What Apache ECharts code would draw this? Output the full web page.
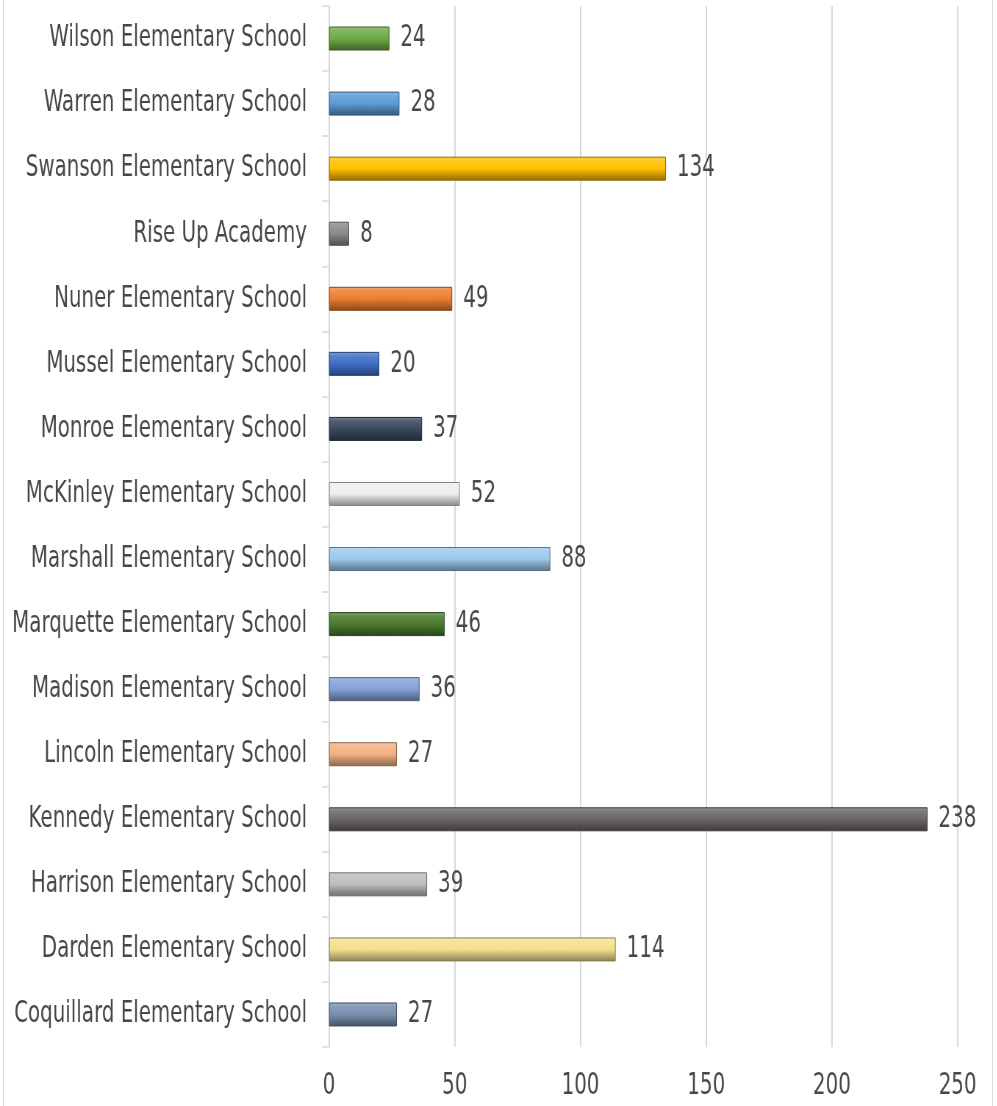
<!DOCTYPE html>
<html>
<head>
<meta charset="utf-8">
<script src="https://cdn.jsdelivr.net/npm/echarts@6/dist/echarts.min.js"></script>
<style>
  html, body { margin: 0; padding: 0; background: #fff; overflow: hidden; }
  #frame { position: absolute; left: 3px; top: 0; width: 988px; height: 1106px;
           border-left: 1px solid #d9d9d9; border-right: 1px solid #d9d9d9; }
  /* the source chart uses a tall, narrow face: draw wide, then squeeze horizontally */
  #chart { position: absolute; left: 0; top: 0; width: 1356px; height: 1106px;
           transform: scaleX(0.735); transform-origin: 0 0; }
</style>
</head>
<body>
<div id="frame"></div>
<div id="chart"></div>
<script>
// bottom to top, as the axis draws them
const schools = [
  'Coquillard Elementary School', 'Darden Elementary School', 'Harrison Elementary School',
  'Kennedy Elementary School', 'Lincoln Elementary School', 'Madison Elementary School',
  'Marquette Elementary School', 'Marshall Elementary School', 'McKinley Elementary School',
  'Monroe Elementary School', 'Mussel Elementary School', 'Nuner Elementary School',
  'Rise Up Academy', 'Swanson Elementary School', 'Warren Elementary School',
  'Wilson Elementary School'
]
const counts = [27, 114, 39, 238, 27, 36, 46, 88, 52, 37, 20, 49, 8, 134, 28, 24]
const barColors = [
  '#7990ad', '#f3e08e', '#bdbdbd', '#6b6767', '#f4b183', '#86a2d8',
  '#4a7a2e', '#9dc8ee', '#eeeeee', '#3a4a60', '#3f6fc6', '#ed7d31',
  '#8a8a8a', '#ffc000', '#5b9bd5', '#6fab46'
]
const xTicks = [0, 50, 100, 150, 200, 250]

const SX = 0.735 // horizontal squeeze applied by css
const FONT = '"DejaVu Sans Condensed", "DejaVu Sans", sans-serif'
const TEXT = '#474747'

function shade(hex, f) {
  let r = parseInt(hex.slice(1, 3), 16), g = parseInt(hex.slice(3, 5), 16), b = parseInt(hex.slice(5, 7), 16)
  const mix = v => f >= 0 ? Math.round(v + (255 - v) * f) : Math.round(v * (1 + f))
  return 'rgb(' + mix(r) + ',' + mix(g) + ',' + mix(b) + ')'
}

function bevel(c) {
  return new echarts.graphic.LinearGradient(0, 0, 0, 1, [
    { offset: 0, color: shade(c, 0.3) },
    { offset: 0.18, color: shade(c, 0.12) },
    { offset: 0.5, color: c },
    { offset: 0.82, color: shade(c, -0.28) },
    { offset: 1, color: shade(c, -0.42) }
  ])
}

const chart = echarts.init(document.getElementById('chart'))
chart.setOption({
  animation: false,
  grid: { left: 329 / SX, right: 39 / SX, top: 6, bottom: 59, outerBoundsMode: 'none', containLabel: false },
  xAxis: {
    type: 'value',
    min: xTicks[0],
    max: xTicks[xTicks.length - 1],
    interval: 50,
    axisLine: { show: false },
    axisTick: { show: false },
    splitLine: { lineStyle: { color: '#d9d9d9', width: 2 } },
    axisLabel: { fontFamily: FONT, fontSize: 30, color: TEXT, margin: 24 }
  },
  yAxis: {
    type: 'category',
    data: schools,
    axisLine: { lineStyle: { color: '#d9d9d9', width: 2 } },
    axisTick: { show: true, length: 7 / SX, lineStyle: { color: '#d9d9d9', width: 1.5 } },
    axisLabel: { fontFamily: FONT, fontSize: 30, color: TEXT, margin: 22 / SX, padding: [6, 0, 0, 0] }
  },
  series: [{
    type: 'bar',
    barWidth: 24,
    data: counts.map((v, i) => ({
      value: v,
      itemStyle: {
        color: bevel(barColors[i]),
        borderColor: shade(barColors[i], -0.45),
        borderWidth: 1
      }
    })),
    label: {
      show: true,
      position: 'right',
      distance: 11 / SX,
      fontFamily: FONT,
      fontSize: 30,
      color: TEXT,
      padding: [6, 0, 0, 0]
    }
  }]
})
</script>
</body>
</html>
